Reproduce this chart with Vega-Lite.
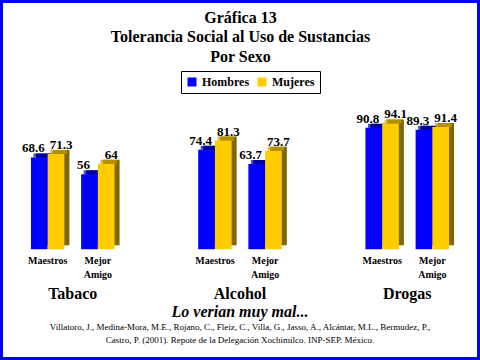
{
  "$schema": "https://vega.github.io/schema/vega-lite/v6.json",
  "width": 480,
  "height": 360,
  "padding": 0,
  "autosize": "none",
  "background": "#ffffff",
  "config": {"view": {"stroke": "#0000ff", "strokeWidth": 6}},
  "title": {
    "text": "Lo verian muy mal...",
    "subtitle": ["Villatoro, J., Medina-Mora, M.E., Rojano, C., Fleiz, C., Villa, G., Jasso, A., Alcántar, M.L., Bermudez, P.,", "Castro, P. (2001). Repote de la Delegación Xochimilco. INP-SEP. México."],
    "orient": "bottom",
    "frame": "group",
    "anchor": "middle",
    "offset": -56,
    "font": "Liberation Serif",
    "fontSize": 16,
    "fontStyle": "italic",
    "fontWeight": "bold",
    "color": "#000000",
    "subtitleFont": "Liberation Serif",
    "subtitleFontSize": 9,
    "subtitleColor": "#000000",
    "subtitlePadding": 3,
    "subtitleLineHeight": 13
  },
  "data": {
    "values": [
      {"group": "Tabaco", "sub": "Maestros", "sex": "Hombres", "key": "Tabaco|Maestros|Hombres", "value": 68.6},
      {"group": "Tabaco", "sub": "Maestros", "sex": "Mujeres", "key": "Tabaco|Maestros|Mujeres", "value": 71.3},
      {"group": "Tabaco", "sub": "Mejor Amigo", "sex": "Hombres", "key": "Tabaco|Mejor Amigo|Hombres", "value": 56},
      {"group": "Tabaco", "sub": "Mejor Amigo", "sex": "Mujeres", "key": "Tabaco|Mejor Amigo|Mujeres", "value": 64},
      {"group": "Alcohol", "sub": "Maestros", "sex": "Hombres", "key": "Alcohol|Maestros|Hombres", "value": 74.4},
      {"group": "Alcohol", "sub": "Maestros", "sex": "Mujeres", "key": "Alcohol|Maestros|Mujeres", "value": 81.3},
      {"group": "Alcohol", "sub": "Mejor Amigo", "sex": "Hombres", "key": "Alcohol|Mejor Amigo|Hombres", "value": 63.7},
      {"group": "Alcohol", "sub": "Mejor Amigo", "sex": "Mujeres", "key": "Alcohol|Mejor Amigo|Mujeres", "value": 73.7},
      {"group": "Drogas", "sub": "Maestros", "sex": "Hombres", "key": "Drogas|Maestros|Hombres", "value": 90.8},
      {"group": "Drogas", "sub": "Maestros", "sex": "Mujeres", "key": "Drogas|Maestros|Mujeres", "value": 94.1},
      {"group": "Drogas", "sub": "Mejor Amigo", "sex": "Hombres", "key": "Drogas|Mejor Amigo|Hombres", "value": 89.3},
      {"group": "Drogas", "sub": "Mejor Amigo", "sex": "Mujeres", "key": "Drogas|Mejor Amigo|Mujeres", "value": 91.4}
    ]
  },
  "resolve": {"axis": {"x": "independent"}},
  "encoding": {
    "x": {
      "field": "key",
      "type": "nominal",
      "scale": {
        "domain": ["_a", "Tabaco|Maestros|Hombres", "Tabaco|Maestros|Mujeres", "Tabaco", "Tabaco|Mejor Amigo|Hombres", "Tabaco|Mejor Amigo|Mujeres", "_1", "_2", "_3", "_4", "_5", "Alcohol|Maestros|Hombres", "Alcohol|Maestros|Mujeres", "Alcohol", "Alcohol|Mejor Amigo|Hombres", "Alcohol|Mejor Amigo|Mujeres", "_6", "_7", "_8", "_9", "_10", "Drogas|Maestros|Hombres", "Drogas|Maestros|Mujeres", "Drogas", "Drogas|Mejor Amigo|Hombres", "Drogas|Mejor Amigo|Mujeres", "_z"],
        "paddingInner": 0,
        "paddingOuter": 0.85
      },
      "axis": null
    },
    "y": {
      "field": "value",
      "type": "quantitative",
      "scale": {"domain": [-83, 186.5], "nice": false},
      "axis": null
    }
  },
  "layer": [
    {
      "mark": {"type": "bar", "xOffset": 5, "yOffset": -4, "y2Offset": -4},
      "encoding": {
        "color": {"condition": {"test": "datum.sex === 'Hombres'", "value": "#00007f"}, "value": "#7f6600"}
      }
    },
    {
      "mark": {"type": "tick", "thickness": 4, "size": 16.7, "xOffset": 2.5, "yOffset": -2},
      "encoding": {
        "color": {"condition": {"test": "datum.sex === 'Hombres'", "value": "#0000aa"}, "value": "#c9a200"}
      }
    },
    {
      "mark": {"type": "bar"},
      "encoding": {
        "x": {
          "field": "key",
          "type": "nominal",
          "scale": {
            "domain": ["_a", "Tabaco|Maestros|Hombres", "Tabaco|Maestros|Mujeres", "Tabaco", "Tabaco|Mejor Amigo|Hombres", "Tabaco|Mejor Amigo|Mujeres", "_1", "_2", "_3", "_4", "_5", "Alcohol|Maestros|Hombres", "Alcohol|Maestros|Mujeres", "Alcohol", "Alcohol|Mejor Amigo|Hombres", "Alcohol|Mejor Amigo|Mujeres", "_6", "_7", "_8", "_9", "_10", "Drogas|Maestros|Hombres", "Drogas|Maestros|Mujeres", "Drogas", "Drogas|Mejor Amigo|Hombres", "Drogas|Mejor Amigo|Mujeres", "_z"],
            "paddingInner": 0,
            "paddingOuter": 0.85
          },
          "axis": {
            "orient": "bottom",
            "offset": -111,
            "title": null,
            "ticks": false,
            "domain": false,
            "grid": false,
            "labelAngle": 0,
            "labelExpr": "indexof(datum.value, 'Hombres') >= 0 ? (indexof(datum.value, 'Maestros') >= 0 ? 'Maestros' : ['Mejor', 'Amigo']) : ''",
            "labelOffset": 8.36,
            "labelPadding": 6,
            "labelFont": "Liberation Serif",
            "labelFontSize": 10,
            "labelFontWeight": "bold",
            "labelColor": "#000000",
            "labelLineHeight": 14,
            "labelOverlap": false,
            "labelBound": false,
            "labelLimit": 0
          }
        },
        "color": {
          "field": "sex",
          "type": "nominal",
          "scale": {"domain": ["Hombres", "Mujeres"], "range": ["#0000ff", "#ffcc00"]},
          "legend": {
            "orient": "none",
            "legendX": 181,
            "legendY": 71,
            "direction": "horizontal",
            "title": null,
            "strokeColor": "#000000",
            "fillColor": "#ffffff",
            "padding": 5,
            "symbolType": "square",
            "symbolSize": 81,
            "symbolStrokeWidth": 0,
            "symbolOpacity": 1,
            "labelFont": "Liberation Serif",
            "labelFontSize": 12,
            "labelFontWeight": "bold",
            "labelColor": "#000000",
            "labelOffset": 4,
            "columnPadding": 6
          }
        }
      }
    },
    {
      "transform": [{"filter": "datum.sex === 'Hombres'"}],
      "mark": {"type": "text", "font": "Liberation Serif", "fontSize": 13, "fontWeight": "bold", "baseline": "alphabetic", "dx": -6, "dy": -5, "color": "#000000"},
      "encoding": {"text": {"field": "value", "type": "quantitative", "format": "~g"}}
    },
    {
      "transform": [{"filter": "datum.sex === 'Mujeres'"}],
      "mark": {"type": "text", "font": "Liberation Serif", "fontSize": 13, "fontWeight": "bold", "baseline": "alphabetic", "dx": 5, "dy": -5, "color": "#000000"},
      "encoding": {"text": {"field": "value", "type": "quantitative", "format": "~g"}}
    },
    {
      "transform": [{"filter": "datum.sex === 'Hombres' && datum.sub === 'Maestros'"}],
      "mark": {"type": "text", "font": "Liberation Serif", "fontSize": 16, "fontWeight": "bold", "baseline": "alphabetic", "dy": 50, "color": "#000000"},
      "encoding": {
        "x": {
          "field": "group",
          "type": "nominal",
          "scale": {
            "domain": ["_a", "Tabaco|Maestros|Hombres", "Tabaco|Maestros|Mujeres", "Tabaco", "Tabaco|Mejor Amigo|Hombres", "Tabaco|Mejor Amigo|Mujeres", "_1", "_2", "_3", "_4", "_5", "Alcohol|Maestros|Hombres", "Alcohol|Maestros|Mujeres", "Alcohol", "Alcohol|Mejor Amigo|Hombres", "Alcohol|Mejor Amigo|Mujeres", "_6", "_7", "_8", "_9", "_10", "Drogas|Maestros|Hombres", "Drogas|Maestros|Mujeres", "Drogas", "Drogas|Mejor Amigo|Hombres", "Drogas|Mejor Amigo|Mujeres", "_z"],
            "paddingInner": 0,
            "paddingOuter": 0.85
          },
          "axis": {
            "orient": "top",
            "offset": -64,
            "title": ["Gráfica 13", "Tolerancia Social al Uso de Sustancias", "Por Sexo"],
            "titleFont": "Liberation Serif",
            "titleFontSize": 16,
            "titleFontWeight": "bold",
            "titleColor": "#000000",
            "titleLineHeight": 19.5,
            "titlePadding": 0,
            "titleAnchor": "middle",
            "labels": false,
            "ticks": false,
            "domain": false,
            "grid": false
          }
        },
        "y": {"datum": 0},
        "text": {"field": "group", "type": "nominal"}
      }
    }
  ]
}
